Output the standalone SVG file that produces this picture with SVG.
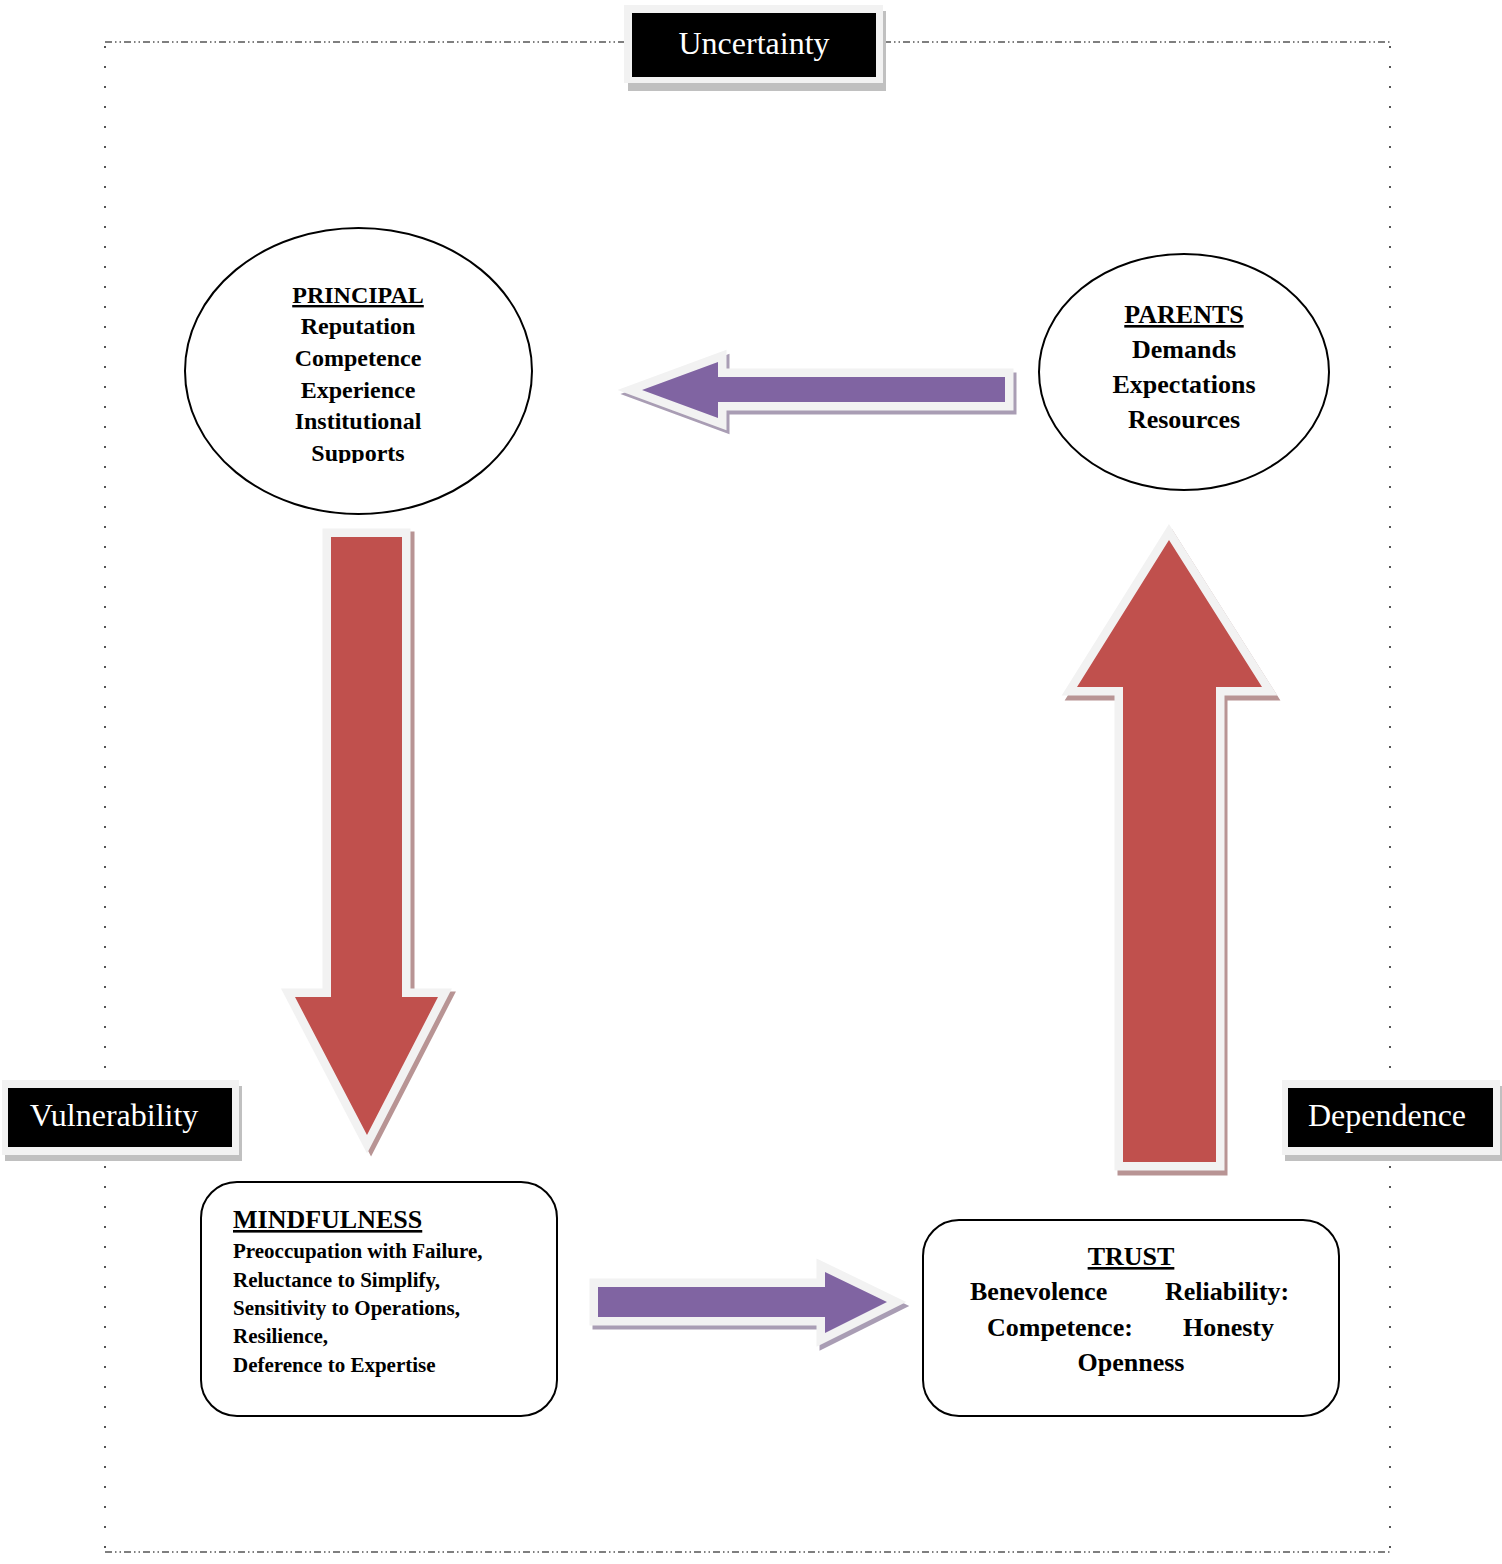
<svg xmlns="http://www.w3.org/2000/svg" width="1502" height="1564" viewBox="0 0 1502 1564">
  <style>
    .frameH { stroke: #555; stroke-width: 1.5; fill: none; stroke-dasharray: 7 3 1.5 3 1.5 3; }
    .frameV { stroke: #555; stroke-width: 2; fill: none; stroke-dasharray: 2 18; }
    .lblOuter { fill: #f2f2f2; }
    .lblShadow { fill: #c0c0c0; }
    .lblInner { fill: #000; }
    .lblText { font-family: "Liberation Serif", "Times New Roman", serif; font-size: 32px; fill: #fff; }
    .node { fill: #fff; stroke: #000; stroke-width: 2; }
    .t { font-family: "Liberation Serif", "Times New Roman", serif; font-weight: bold; fill: #000; }
    .u { text-decoration: underline; }
    .outline { stroke: #f2f2f2; stroke-width: 17; stroke-linejoin: miter; stroke-miterlimit: 10; }
    .pur { fill: #8064a2; }
    .red { fill: #c0504d; }
    .purSh { fill: #a99db4; stroke: #a99db4; stroke-width: 17; stroke-linejoin: miter; stroke-miterlimit: 10; }
    .redSh { fill: #b89494; stroke: #b89494; stroke-width: 17; stroke-linejoin: miter; stroke-miterlimit: 10; }
  </style>
  <defs>
    <path id="arrLeft" d="M1005,377 L718,377 L718,362 L642,390 L718,418 L718,402 L1005,402 Z"/>
    <path id="arrDown" d="M331,537 L402,537 L402,997 L438,997 L367,1135 L295,997 L331,997 Z"/>
    <path id="arrUp" d="M1169,540 L1262,687 L1216,687 L1216,1162 L1123,1162 L1123,687 L1077,687 Z"/>
    <path id="arrRight" d="M598,1287 L825,1287 L825,1272 L887,1302 L825,1333 L825,1317 L598,1317 Z"/>
    <clipPath id="principalClip"><rect x="180" y="220" width="360" height="243"/></clipPath>
  </defs>
  <rect width="1502" height="1564" fill="#fff"/>

  <g id="frame">
    <line class="frameH" x1="105" y1="42" x2="1390" y2="42"/>
    <line class="frameH" x1="105" y1="1552" x2="1390" y2="1552"/>
    <line class="frameV" x1="105" y1="46" x2="105" y2="1552"/>
    <line class="frameV" x1="1390" y1="46" x2="1390" y2="1552"/>
  </g>

  <g id="connectors">
    <g id="arrow-parents-principal">
      <use href="#arrLeft" class="purSh" transform="translate(3,4)"/>
      <use href="#arrLeft" class="outline pur"/>
      <use href="#arrLeft" class="pur"/>
    </g>
    <g id="arrow-principal-mindfulness">
      <use href="#arrDown" class="redSh" transform="translate(4,3)"/>
      <use href="#arrDown" class="outline red"/>
      <use href="#arrDown" class="red"/>
    </g>
    <g id="arrow-trust-parents">
      <use href="#arrUp" class="redSh" transform="translate(3,5)"/>
      <use href="#arrUp" class="outline red"/>
      <use href="#arrUp" class="red"/>
    </g>
    <g id="arrow-mindfulness-trust">
      <use href="#arrRight" class="purSh" transform="translate(3,4)"/>
      <use href="#arrRight" class="outline pur"/>
      <use href="#arrRight" class="pur"/>
    </g>
  </g>

  <g id="label-uncertainty">
    <rect class="lblShadow" x="628" y="11" width="258" height="80"/>
    <rect class="lblOuter" x="624" y="5" width="259" height="78"/>
    <rect class="lblInner" x="632" y="13" width="244" height="64"/>
    <text class="lblText" x="754" y="54" text-anchor="middle">Uncertainty</text>
  </g>

  <g id="label-vulnerability">
    <rect class="lblShadow" x="5" y="1086" width="237" height="75"/>
    <rect class="lblOuter" x="2" y="1080" width="237" height="75"/>
    <rect class="lblInner" x="8" y="1088" width="224" height="59"/>
    <text class="lblText" x="114" y="1126" text-anchor="middle">Vulnerability</text>
  </g>

  <g id="label-dependence">
    <rect class="lblShadow" x="1285" y="1086" width="217" height="75"/>
    <rect class="lblOuter" x="1282" y="1080" width="218" height="75"/>
    <rect class="lblInner" x="1288" y="1088" width="205" height="59"/>
    <text class="lblText" x="1387" y="1126" text-anchor="middle">Dependence</text>
  </g>

  <g id="principal">
    <ellipse class="node" cx="358.5" cy="371" rx="173.5" ry="143"/>
    <g clip-path="url(#principalClip)" font-size="24" text-anchor="middle">
      <text class="t u" x="358" y="303">PRINCIPAL</text>
      <text class="t" x="358" y="334">Reputation</text>
      <text class="t" x="358" y="366">Competence</text>
      <text class="t" x="358" y="398">Experience</text>
      <text class="t" x="358" y="429">Institutional</text>
      <text class="t" x="358" y="461">Supports</text>
    </g>
  </g>

  <g id="parents">
    <ellipse class="node" cx="1184" cy="372" rx="145" ry="118"/>
    <g font-size="26" text-anchor="middle">
      <text class="t u" x="1184" y="323">PARENTS</text>
      <text class="t" x="1184" y="358">Demands</text>
      <text class="t" x="1184" y="393">Expectations</text>
      <text class="t" x="1184" y="428">Resources</text>
    </g>
  </g>

  <g id="mindfulness">
    <rect class="node" x="201" y="1182" width="356" height="234" rx="36" ry="36"/>
    <text class="t u" x="233" y="1228" font-size="26">MINDFULNESS</text>
    <g font-size="21">
      <text class="t" x="233" y="1258">Preoccupation with Failure,</text>
      <text class="t" x="233" y="1287">Reluctance to Simplify,</text>
      <text class="t" x="233" y="1315">Sensitivity to Operations,</text>
      <text class="t" x="233" y="1343">Resilience,</text>
      <text class="t" x="233" y="1372">Deference to Expertise</text>
    </g>
  </g>

  <g id="trust">
    <rect class="node" x="923" y="1220" width="416" height="196" rx="36" ry="36"/>
    <g font-size="26">
      <text class="t u" x="1131" y="1265" text-anchor="middle">TRUST</text>
      <text class="t" x="970" y="1300">Benevolence</text>
      <text class="t" x="1165" y="1300">Reliability:</text>
      <text class="t" x="987" y="1336">Competence:</text>
      <text class="t" x="1183" y="1336">Honesty</text>
      <text class="t" x="1131" y="1371" text-anchor="middle">Openness</text>
    </g>
  </g>
</svg>
